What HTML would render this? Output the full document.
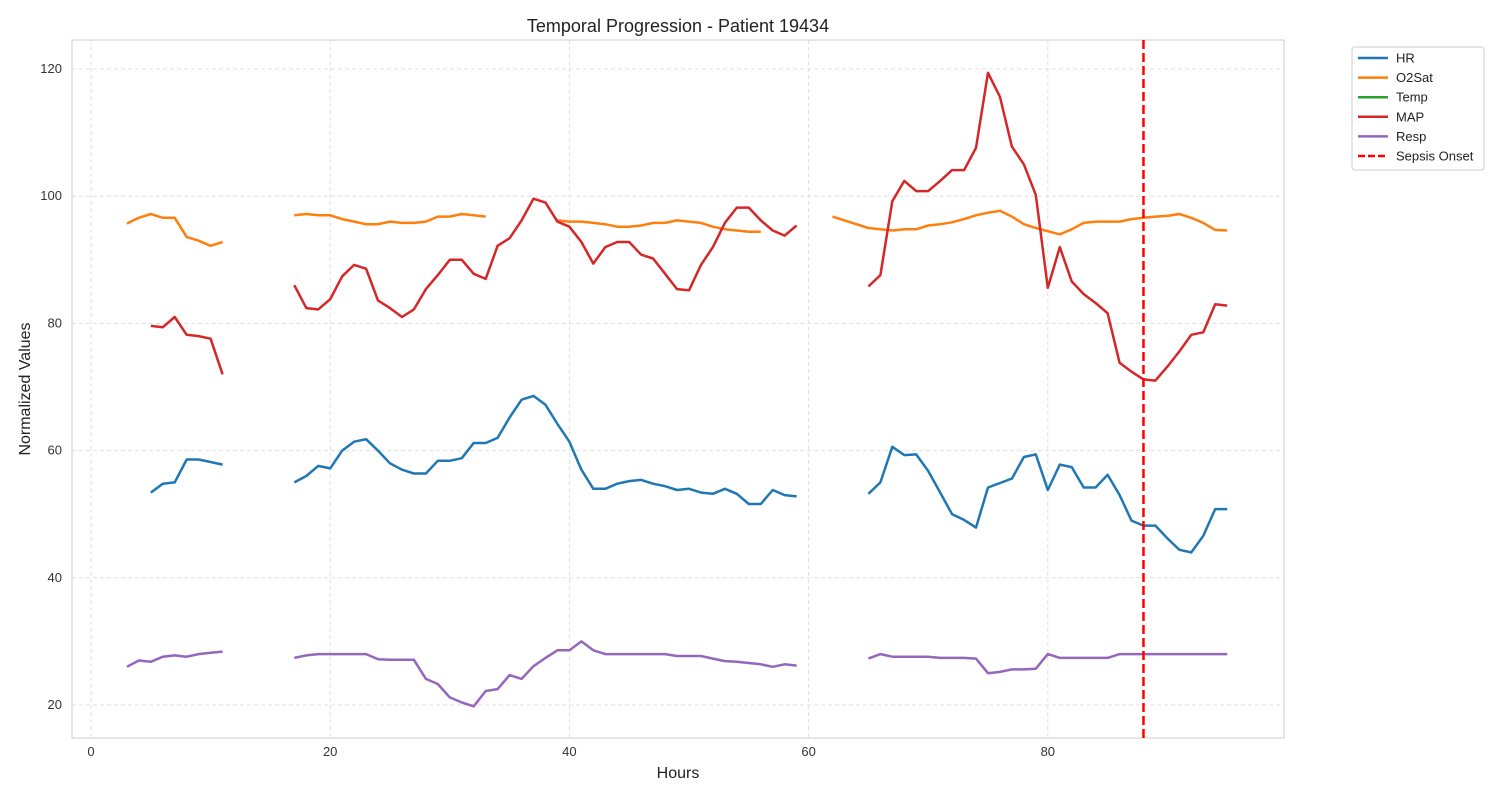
<!DOCTYPE html>
<html><head><meta charset="utf-8"><style>
body{margin:0;background:#fff;font-family:"Liberation Sans",sans-serif}
</style></head><body>
<svg id="c" width="1500" height="800" xmlns="http://www.w3.org/2000/svg"></svg>
<script>
const hours=[];for(let i=0;i<=95;i++)hours.push(i);
function S(start,vals){const a=new Array(96).fill(null);vals.forEach((v,i)=>a[start+i]=v);return a;}
function M(...parts){const a=new Array(96).fill(null);parts.forEach(p=>p.forEach((v,i)=>{if(v!==null)a[i]=v;}));return a;}
const hr=M(S(5,[53.4,54.8,55,58.6,58.6,58.2,57.8]),
S(17,[55,56,57.6,57.2,60,61.4,61.8,60,58,57,56.4,56.4,58.4,58.4,58.8,61.2,61.2,62,65.2,68,68.6,67.2,64.2,61.4,57,54,54,54.8,55.2,55.4,54.8,54.4,53.8,54,53.4,53.2,54,53.2,51.6,51.6,53.8,53,52.8]),
S(65,[53.2,55,60.6,59.3,59.4,56.8,53.4,50,49.1,47.9,54.2,54.9,55.6,59,59.4,53.8,57.8,57.4,54.2,54.2,56.2,53,49,48.2,48.2,46.2,44.4,44,46.6,50.8,50.8]));
const o2sat=M(S(3,[95.7,96.6,97.2,96.6,96.6,93.6,93,92.2,92.8]),
S(17,[97,97.2,97,97,96.4,96,95.6,95.6,96,95.8,95.8,96,96.8,96.8,97.2,97,96.8]),
S(39,[96.2,96,96,95.8,95.6,95.2,95.2,95.4,95.8,95.8,96.2,96,95.8,95.2,94.8,94.6,94.4,94.4]),
S(62,[96.8,96.2,95.6,95,94.8,94.6,94.8,94.8,95.4,95.6,95.9,96.4,97,97.4,97.7,96.8,95.6,95,94.5,94,94.8,95.8,96,96,96,96.4,96.6,96.8,96.9,97.2,96.6,95.8,94.7,94.6]));
const temp=new Array(96).fill(null);
const map=M(S(5,[79.6,79.4,81,78.2,78,77.6,72]),
S(17,[86,82.4,82.2,83.8,87.4,89.2,88.6,83.6,82.4,81,82.2,85.4,87.6,90,90,87.8,87,92.2,93.4,96.2,99.6,99,96,95.2,92.8,89.4,92,92.8,92.8,90.8,90.2,87.8,85.4,85.2,89.2,92,95.8,98.2,98.2,96.2,94.6,93.8,95.4]),
S(65,[85.8,87.6,99.2,102.4,100.8,100.8,102.4,104.1,104.1,107.6,119.4,115.6,107.8,105,100.2,85.6,92,86.6,84.6,83.2,81.6,73.8,72.4,71.2,71,73.2,75.6,78.2,78.6,83,82.8]));
const resp=M(S(3,[26,27,26.8,27.6,27.8,27.6,28,28.2,28.4]),
S(17,[27.4,27.8,28,28,28,28,28,27.2,27.1,27.1,27.1,24.1,23.3,21.2,20.4,19.8,22.2,22.5,24.7,24.1,26.1,27.4,28.6,28.6,30,28.6,28,28,28,28,28,28,27.7,27.7,27.7,27.3,26.9,26.8,26.6,26.4,26,26.4,26.2]),
S(65,[27.3,28,27.6,27.6,27.6,27.6,27.4,27.4,27.4,27.3,25,25.2,25.6,25.6,25.7,28,27.4,27.4,27.4,27.4,27.4,28,28,28,28,28,28,28,28,28,28]));
const sepsisHour=88;
const xTicks=[0,20,40,60,80];const yTicks=[20,40,60,80,100,120];
const seriesNames=["HR","O2Sat","Temp","MAP","Resp"];
const colors=["#1f77b4","#ff7f0e","#2ca02c","#d62728","#9467bd"];
const L=72,R=1284,T=40,B=738;
const X=v=>91+v*11.96, Y=v=>705-(v-20)*6.36;
const svg=document.getElementById('c');const NS="http://www.w3.org/2000/svg";
function el(t,a,p){const e=document.createElementNS(NS,t);for(const k in a)e.setAttribute(k,a[k]);(p||svg).appendChild(e);return e;}
xTicks.forEach(t=>{const g=el('line',{x1:X(t),x2:X(t),y1:T,y2:B,stroke:'#e0e0e0','stroke-dasharray':'4,3'});

const tx=el('text',{x:X(t),y:756,'font-size':13,'text-anchor':'middle',fill:'#333'});tx.textContent=t;
});
yTicks.forEach(t=>{const g=el('line',{x1:L,x2:R,y1:Y(t),y2:Y(t),stroke:'#e0e0e0','stroke-dasharray':'4,3'});

const tx=el('text',{x:62,y:Y(t)+4,'font-size':13,'text-anchor':'end',fill:'#333'});tx.textContent=t;
});
const fr=el('rect',{x:L,y:T,width:R-L,height:B-T,fill:'none',stroke:'#ccc'});

[hr,o2sat,temp,map,resp].forEach((s,si)=>{let d='',pen=false;
s.forEach((v,i)=>{if(v===null){pen=false;return;}d+=(pen?'L':'M')+X(hours[i]).toFixed(1)+','+Y(v).toFixed(1);pen=true;});
if(d){const p=el('path',{d:d,fill:'none',stroke:colors[si],'stroke-width':2.5,'stroke-linejoin':'round'});
}});
const sl=el('line',{x1:X(sepsisHour),x2:X(sepsisHour),y1:T,y2:B,stroke:'#ff0000','stroke-width':2.5,'stroke-dasharray':'9,4'});

const ti=el('text',{x:678,y:32,'font-size':18,'text-anchor':'middle',fill:'#222'});ti.textContent='Temporal Progression - Patient 19434';

const xl=el('text',{x:678,y:778,'font-size':16,'text-anchor':'middle',fill:'#222'});xl.textContent='Hours';

const yl=el('text',{x:30,y:389,'font-size':16,'text-anchor':'middle',fill:'#222',transform:'rotate(-90 30 389)'});yl.textContent='Normalized Values';

const lg=el('rect',{x:1352,y:47,width:132,height:123,fill:'#fff',stroke:'#ccc',rx:3});

const lnames=seriesNames.concat(['Sepsis Onset']),lcol=colors.concat(['#ff0000']);
lnames.forEach((n,i)=>{const y=58+i*19.6;
const ln=el('line',{x1:1358,x2:1388,y1:y,y2:y,stroke:lcol[i],'stroke-width':2.5});
if(i===5)ln.setAttribute('stroke-dasharray','7,3');

const t=el('text',{x:1396,y:y+4.5,'font-size':13,fill:'#222'});t.textContent=n;
});
</script>
</body></html>
